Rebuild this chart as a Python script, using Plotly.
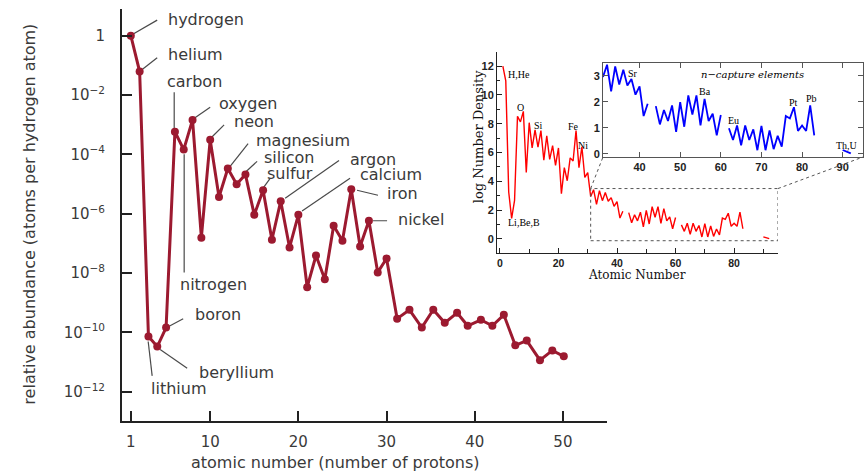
import plotly.graph_objects as go

W, H = 867, 475

# ---------------- Left chart data (relative abundance vs atomic number) ----------------
left_z = [1, 2, 3, 4, 5, 6, 7, 8, 9, 10, 11, 12, 13, 14, 15, 16, 17, 18, 19, 20,
          21, 22, 23, 24, 25, 26, 27, 28, 29, 30,
          31.2, 32.6, 34.0, 35.3, 36.6, 38.0, 39.2, 40.7, 42.0, 43.3, 44.6, 45.9, 47.4, 48.8, 50.1]
left_log_abund = [0.0, -1.21, -10.14, -10.48, -9.84, -3.24, -3.84, -2.84, -6.81, -3.51,
                  -5.44, -4.48, -5.01, -4.68, -6.04, -5.21, -6.88, -5.58, -7.14, -6.04,
                  -8.48, -7.41, -8.21, -6.41, -6.91, -5.18, -7.11, -6.24, -7.98, -7.51,
                  -9.54, -9.24, -9.84, -9.24, -9.68, -9.34, -9.78, -9.58, -9.78, -9.41,
                  -10.44, -10.28, -10.94, -10.61, -10.81]
left_abund = [10 ** v for v in left_log_abund]

left_x_ticks = [1, 10, 20, 30, 40, 50]
left_y_tickvals = [1, 1e-2, 1e-4, 1e-6, 1e-8, 1e-10, 1e-12]
left_y_ticktext = ["1", "10<sup>−2</sup>", "10<sup>−4</sup>", "10<sup>−6</sup>",
                   "10<sup>−8</sup>", "10<sup>−10</sup>", "10<sup>−12</sup>"]

element_names = ["hydrogen", "helium", "carbon", "nitrogen", "oxygen", "neon", "magnesium",
                 "silicon", "sulfur", "argon", "calcium", "iron", "nickel", "boron",
                 "beryllium", "lithium"]

# label placement (x in axis units, y as log10) and leader lines
label_pos = {
    "hydrogen": (5.0, 0.56, "left"), "helium": (5.0, -0.64, "left"),
    "carbon": (8.24, -1.54, "center"), "nitrogen": (6.37, -8.38, "left"),
    "oxygen": (10.8, -2.28, "left"), "neon": (12.5, -2.91, "left"),
    "magnesium": (14.98, -3.52, "left"), "silicon": (15.9, -4.1, "left"),
    "sulfur": (16.23, -4.63, "left"), "argon": (25.63, -4.16, "left"),
    "calcium": (26.77, -4.67, "left"), "iron": (29.82, -5.33, "left"),
    "nickel": (31.07, -6.2, "left"), "boron": (8.07, -9.41, "left"),
    "beryllium": (8.52, -11.34, "left"), "lithium": (3.09, -11.91, "left"),
}
leaders = {
    "hydrogen": ((1.27, 0.057), (3.99, 0.523)), "helium": ((2.29, -1.143), (3.99, -0.743)),
    "carbon": ((5.92, -1.91), (5.92, -3.14)), "nitrogen": ((7.05, -4.0), (7.05, -7.98)),
    "oxygen": ((8.07, -2.81), (10.0, -2.41)), "neon": ((10.11, -3.44), (11.58, -3.01)),
    "magnesium": ((12.26, -4.41), (14.3, -3.64)), "silicon": ((14.08, -4.58), (15.32, -4.24)),
    "sulfur": ((16.0, -5.14), (16.8, -4.81)), "argon": ((18.5, -5.48), (24.61, -4.21)),
    "calcium": ((20.42, -5.91), (25.86, -4.81)), "iron": ((26.65, -5.21), (29.03, -5.38)),
    "nickel": ((28.47, -6.24), (30.06, -6.24)), "boron": ((5.24, -9.81), (6.94, -9.54)),
    "beryllium": ((4.33, -10.58), (7.39, -11.21)), "lithium": ((2.97, -10.31), (3.42, -11.47)),
}

# ---------------- Right chart data (log number density vs atomic number) ----------------
right_z = (list(range(1, 43)) + [None] + list(range(44, 61)) + [None]
           + list(range(62, 84)) + [None] + [90, 92])
right_logn = ([12.0, 10.97, 3.26, 1.43, 2.68, 8.52, 8.13, 8.86, 4.61, 8.07,
               6.32, 7.57, 6.38, 7.52, 5.47, 7.16, 5.52, 6.48, 5.11, 6.32,
               3.14, 4.95, 4.04, 5.63, 5.41, 7.52, 4.95, 6.39, 4.27, 4.61,
               2.95, 3.42, 2.40, 3.35, 2.66, 3.23, 2.62, 2.87, 2.27, 2.59, 1.45, 1.92]
              + [None]
              + [1.83, 1.13, 1.68, 1.26, 1.86, 0.84, 1.98, 1.04, 2.24, 1.51,
                 2.24, 1.09, 2.11, 1.26, 1.54, 0.71, 1.49]
              + [None]
              + [0.98, 0.53, 1.09, 0.33, 1.09, 0.53, 0.94, 0.14, 1.07, 0.14, 0.90,
                 0.18, 0.69, 0.28, 1.45, 1.36, 1.79, 0.88, 1.09, 0.88, 1.86, 0.71]
              + [None]
              + [0.15, 0.02])

# n-capture subset (Z >= 31, keep gaps)
inset_z, inset_logn = [], []
for z, v in zip(right_z, right_logn):
    if z is None or z >= 31:
        inset_z.append(z)
        inset_logn.append(v)

right_labels = [("H,He", 2.0, 11.45, "left"), ("O", 7.1, 9.15, "center"),
                ("Si", 13.3, 7.86, "center"), ("Fe", 25.3, 7.79, "center"),
                ("Ni", 28.5, 6.48, "center"), ("Li,Be,B", 2.05, 1.14, "left")]
inset_labels = [("Sr", 38.3, 3.07), ("Ba", 56.1, 2.38), ("Eu", 63.1, 1.29),
                ("Pt", 78.0, 1.96), ("Pb", 82.2, 2.13), ("Th,U", 91.0, 0.32)]

# ---------------- layout geometry ----------------
def xdom(p0, p1):
    return [p0 / W, p1 / W]

def ydom(top, bottom):
    return [1 - bottom / H, 1 - top / H]

L_XD, L_YD = xdom(122, 607), ydom(9, 424)
R_XD, R_YD = xdom(497, 778), ydom(52, 255)
I_XD, I_YD = xdom(603, 863), ydom(63, 158)
L_XR, L_YR = [0, 55], [-13, 0.9]
R_XR, R_YR = [-1, 95], [-1, 13]
I_XR, I_YR = [31, 95], [-0.12, 3.5]

def to_paper(v, rng, dom):
    return dom[0] + (v - rng[0]) / (rng[1] - rng[0]) * (dom[1] - dom[0])

CRIMSON = "#9c1a30"
GREY_TXT = "#3a3a3a"
SANS = "DejaVu Sans"
SERIF = "Liberation Serif"

fig = go.Figure()

# leader lines
lx, ly = [], []
for name in element_names:
    (x0, y0), (x1, y1) = leaders[name]
    lx += [x0, x1, None]
    ly += [10 ** y0, 10 ** y1, None]
fig.add_trace(go.Scatter(x=lx, y=ly, mode="lines", xaxis="x", yaxis="y",
                         line=dict(color="#4a4a4a", width=1.2), hoverinfo="skip",
                         showlegend=False))

fig.add_trace(go.Scatter(x=left_z, y=left_abund, mode="lines+markers", xaxis="x", yaxis="y",
                         line=dict(color=CRIMSON, width=3),
                         marker=dict(color=CRIMSON, size=8), showlegend=False))

fig.add_trace(go.Scatter(x=right_z, y=right_logn, mode="lines", xaxis="x2", yaxis="y2",
                         line=dict(color="#ff0000", width=1.4), connectgaps=False,
                         showlegend=False))

fig.add_trace(go.Scatter(x=inset_z, y=inset_logn, mode="lines", xaxis="x3", yaxis="y3",
                         line=dict(color="#0000ff", width=1.8), connectgaps=False,
                         showlegend=False))

annotations = []
for name in element_names:
    x, y, anc = label_pos[name]
    annotations.append(dict(x=x, y=y, xref="x", yref="y", text=name, showarrow=False,
                            xanchor=anc, yanchor="middle",
                            font=dict(family=SANS, size=16, color=GREY_TXT)))

for t, x, y, anc in right_labels:
    annotations.append(dict(x=x, y=y, xref="x2", yref="y2", text=t, showarrow=False,
                            xanchor=anc, yanchor="middle",
                            font=dict(family=SERIF, size=10, color="#000")))
for t, x, y in inset_labels:
    annotations.append(dict(x=x, y=y, xref="x3", yref="y3", text=t, showarrow=False,
                            xanchor="center", yanchor="middle",
                            font=dict(family=SERIF, size=10, color="#000")))
annotations.append(dict(x=67.9, y=3.04, xref="x3", yref="y3", text="n−capture elements",
                        showarrow=False, xanchor="center", yanchor="middle",
                        font=dict(family="DejaVu Serif", size=10, color="#000", style="italic")))

# axis titles
annotations += [
    dict(x=30 / W, y=1 - 216 / H, xref="paper", yref="paper", textangle=-90,
         text="relative abundance (atoms per hydrogen atom)", showarrow=False,
         xanchor="center", yanchor="middle",
         font=dict(family=SANS, size=16, color=GREY_TXT)),
    dict(x=335 / W, y=1 - 465 / H, xref="paper", yref="paper",
         text="atomic number (number of protons)", showarrow=False,
         xanchor="center", yanchor="middle",
         font=dict(family=SANS, size=16, color=GREY_TXT)),
    dict(x=478 / W, y=1 - 138 / H, xref="paper", yref="paper", textangle=-90,
         text="log Number Density", showarrow=False,
         xanchor="center", yanchor="middle",
         font=dict(family="DejaVu Serif", size=13, color="#111")),
    dict(x=637 / W, y=1 - 277 / H, xref="paper", yref="paper",
         text="Atomic Number", showarrow=False,
         xanchor="center", yanchor="middle",
         font=dict(family="DejaVu Serif", size=12, color="#111")),
]

shapes = [
    dict(type="rect", xref="x2", yref="y2", x0=I_XR[0], x1=I_XR[1], y0=I_YR[0], y1=I_YR[1],
         line=dict(color="#555", width=1, dash="dot")),
]
for xv in (I_XR[0], I_XR[1]):
    shapes.append(dict(type="line", xref="paper", yref="paper",
                       x0=to_paper(xv, R_XR, R_XD), y0=to_paper(I_YR[1], R_YR, R_YD),
                       x1=to_paper(xv, I_XR, I_XD), y1=to_paper(I_YR[0], I_YR, I_YD),
                       line=dict(color="#555", width=1, dash="dot")))

tick_r = dict(family="Liberation Sans", size=11, color="#222", weight="bold")
tick_rx = dict(family="Liberation Sans", size=10.5, color="#222", weight="bold")

fig.update_layout(
    width=W, height=H, margin=dict(l=0, r=0, t=0, b=0),
    paper_bgcolor="white", plot_bgcolor="white", showlegend=False,
    annotations=annotations, shapes=shapes,
    xaxis=dict(domain=L_XD, range=L_XR, anchor="y", showline=True, linewidth=2,
               linecolor="#222", ticks="inside", ticklen=10, tickwidth=1.5, tickcolor="#222",
               tickvals=left_x_ticks, showgrid=False, zeroline=False,
               tickfont=dict(family=SANS, size=15, color=GREY_TXT), ticklabelstandoff=6),
    yaxis=dict(domain=L_YD, type="log", range=L_YR, anchor="x", showline=True, linewidth=2,
               linecolor="#222", ticks="inside", ticklen=10, tickwidth=1.5, tickcolor="#222",
               tickvals=left_y_tickvals, ticktext=left_y_ticktext, showgrid=False,
               zeroline=False, tickfont=dict(family=SANS, size=15, color=GREY_TXT),
               ticklabelstandoff=12),
    xaxis2=dict(domain=R_XD, range=R_XR, anchor="y2", showline=True, linewidth=1,
                linecolor="#222", ticks="inside", ticklen=5, tickcolor="#222",
                tickvals=[0, 20, 40, 60, 80], showgrid=False, zeroline=False,
                minor=dict(dtick=10, ticks="inside", ticklen=4, tickcolor="#222"),
                tickfont=tick_rx, ticklabelstandoff=0),
    yaxis2=dict(domain=R_YD, range=R_YR, anchor="x2", showline=True, linewidth=1,
                linecolor="#222", ticks="inside", ticklen=5, tickcolor="#222",
                tickvals=[0, 2, 4, 6, 8, 10, 12], showgrid=False, zeroline=False,
                minor=dict(dtick=1, ticks="inside", ticklen=3, tickcolor="#222"),
                tickfont=tick_r),
    xaxis3=dict(domain=I_XD, range=I_XR, anchor="y3", showline=True, linewidth=1,
                linecolor="#555", mirror="ticks", ticks="inside", ticklen=5, tickcolor="#555",
                tickvals=[40, 50, 60, 70, 80, 90], showgrid=False, zeroline=False,
                tickfont=tick_r),
    yaxis3=dict(domain=I_YD, range=I_YR, anchor="x3", showline=True, linewidth=1,
                linecolor="#555", mirror="ticks", ticks="inside", ticklen=5, tickcolor="#555",
                tickvals=[0, 1, 2, 3], showgrid=False, zeroline=False,
                tickfont=tick_r),
)

fig.write_html("out.html")
